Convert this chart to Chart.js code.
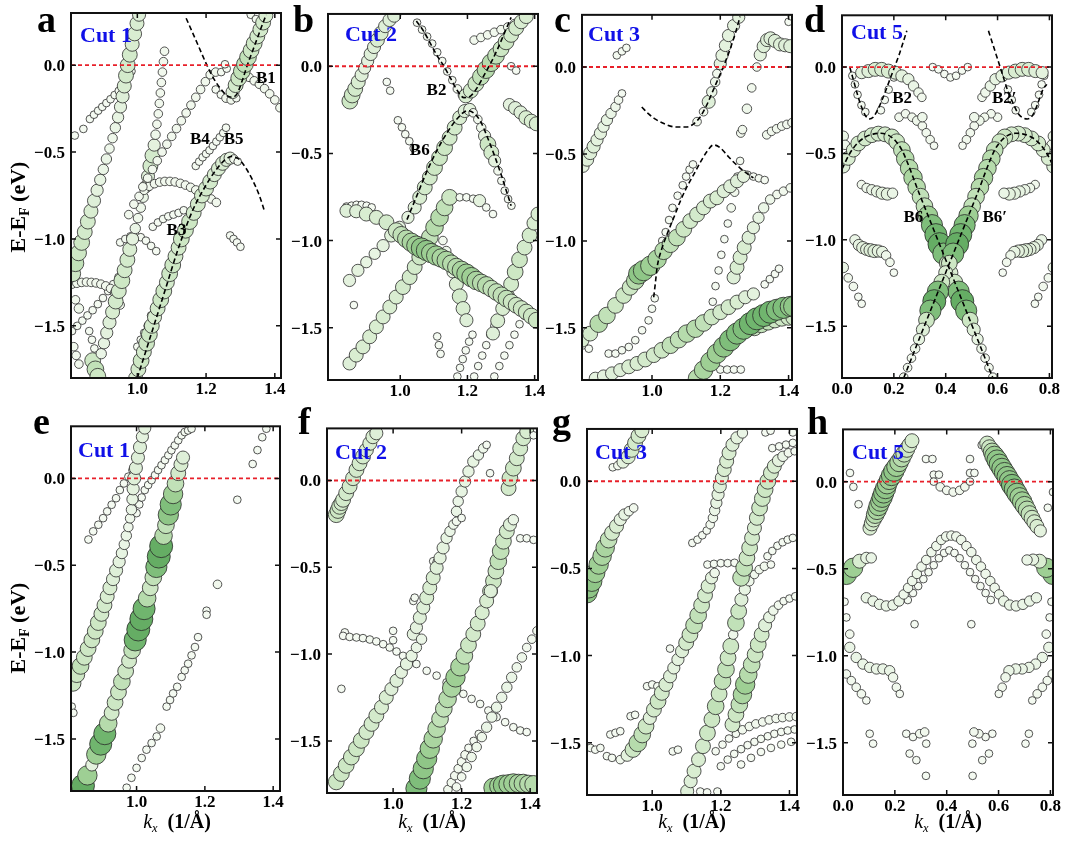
<!DOCTYPE html>
<html><head><meta charset="utf-8">
<script src="https://cdn.jsdelivr.net/npm/chart.js@4.4.0/dist/chart.umd.min.js"></script>
<style>
body{margin:0;background:#fff;width:1065px;height:845px;position:relative;overflow:hidden;font-family:"Liberation Serif","Times New Roman",serif;}
canvas{position:absolute;}
.pl{position:absolute;font-weight:bold;font-size:38px;line-height:38px;color:#000;}
.cut{position:absolute;font-weight:bold;font-size:22px;line-height:22px;color:#1010e8;white-space:nowrap;}
.yt{position:absolute;font-weight:bold;font-size:22px;line-height:22px;white-space:nowrap;transform:translate(-50%,-50%) rotate(-90deg);}
.xt{position:absolute;font-weight:bold;font-size:20px;line-height:20px;white-space:nowrap;transform:translateX(-50%);}
sub{font-size:0.62em;line-height:0;vertical-align:-0.3em;}
</style></head><body>
<script>
// ---------- tick labels & ranges ----------
const TICK_E = [0.0, -0.5, -1.0, -1.5];
const TICK_K1 = [1.0, 1.2, 1.4];
const TICK_K5 = [0.0, 0.2, 0.4, 0.6, 0.8];
const E_RANGE = [-1.8, 0.3];
const K_A = [0.807, 1.418], K_B = [0.785, 1.41], K_C = [0.795, 1.41], K_D = [0, 0.81];
const K_E = [0.808, 1.42], K_F = [0.807, 1.42], K_G = [0.81, 1.422], K_H = [0, 0.81];

// ---------- panel a : [k, E, weight] ----------
const a_L1 = [[0.812,-1.20,0.5],[0.820,-1.14,0.55],[0.829,-1.08,0.5],[0.838,-1.02,0.5],[0.847,-0.96,0.45],[0.856,-0.90,0.45],[0.865,-0.84,0.4],[0.874,-0.78,0.35],[0.883,-0.72,0.3],[0.892,-0.66,0.25],[0.901,-0.60,0.2],[0.910,-0.54,0.2],[0.919,-0.48,0.15],[0.928,-0.42,0.15],[0.936,-0.36,0.2],[0.944,-0.30,0.25],[0.951,-0.24,0.3],[0.957,-0.18,0.35],[0.962,-0.12,0.4],[0.967,-0.06,0.45],[0.972,0.0,0.45],[0.978,0.06,0.45],[0.985,0.12,0.4],[0.992,0.18,0.4],[0.999,0.24,0.4],[1.005,0.29,0.35]];
const a_S = [[0.818,-0.405,0.05],[0.843,-0.367,0.05],[0.862,-0.31,0.05],[0.874,-0.285,0.05],[0.886,-0.262,0.05],[0.898,-0.24,0.05],[0.91,-0.218,0.05],[0.922,-0.196,0.05],[0.934,-0.172,0.05],[0.946,-0.148,0.05],[0.956,-0.122,0.05],[0.966,-0.095,0.05],[0.975,-0.066,0.05],[0.983,-0.035,0.05]];
const a_L2 = [[0.895,-1.66,0.2],[0.903,-1.60,0.25],[0.911,-1.54,0.3],[0.919,-1.48,0.35],[0.928,-1.42,0.4],[0.937,-1.36,0.45],[0.946,-1.30,0.45],[0.955,-1.24,0.5],[0.963,-1.18,0.45],[0.971,-1.12,0.45],[0.978,-1.06,0.4],[0.986,-1.00,0.3],[0.994,-0.94,0.2],[1.002,-0.88,0.15],[1.010,-0.82,0.15],[1.017,-0.76,0.2],[1.024,-0.70,0.3],[1.031,-0.64,0.35],[1.038,-0.58,0.45],[1.044,-0.52,0.45],[1.049,-0.46,0.3],[1.053,-0.40,0.15],[1.057,-0.34,0.1],[1.061,-0.28,0.1],[1.064,-0.22,0.1],[1.067,-0.16,0.1],[1.070,-0.10,0.1],[1.073,-0.04,0.1],[1.076,0.02,0.1],[1.079,0.08,0.1]];
const a_L4 = [[1.016,-0.70,0.1],[1.03,-0.65,0.1],[1.044,-0.60,0.1],[1.058,-0.55,0.1],[1.072,-0.50,0.1],[1.086,-0.455,0.1],[1.10,-0.41,0.1],[1.114,-0.365,0.1],[1.128,-0.32,0.1],[1.142,-0.275,0.1],[1.156,-0.23,0.1],[1.17,-0.185,0.1],[1.184,-0.14,0.1],[1.198,-0.095,0.1],[1.212,-0.055,0.1],[1.228,-0.04,0.1],[1.244,-0.04,0.05]];
const a_arc = [[0.975,-0.86,0.1],[0.99,-0.80,0.1],[1.005,-0.755,0.1],[1.02,-0.72,0.1],[1.035,-0.697,0.1],[1.05,-0.682,0.1],[1.065,-0.673,0.1],[1.08,-0.669,0.1],[1.095,-0.669,0.1],[1.11,-0.672,0.1],[1.125,-0.68,0.1],[1.14,-0.69,0.1],[1.155,-0.703,0.1],[1.17,-0.718,0.1],[1.185,-0.735,0.1],[1.20,-0.752,0.1],[1.215,-0.77,0.1],[1.23,-0.79,0.1]];
const a_low1 = [[1.045,-0.93,0.05],[1.06,-0.905,0.05],[1.075,-0.885,0.05],[1.09,-0.87,0.05],[1.105,-0.86,0.05],[1.12,-0.85,0.05],[1.135,-0.835,0.05]];
const a_low2 = [[0.95,-1.02,0.05],[0.965,-1.0,0.05],[0.98,-0.985,0.05],[0.995,-0.98,0.05],[1.01,-0.99,0.05],[1.025,-1.01,0.05],[1.04,-1.04,0.05],[1.055,-1.07,0.05]];
const a_B4 = [[1.17,-0.58,0.05],[1.18,-0.555,0.05],[1.19,-0.53,0.05],[1.20,-0.51,0.05],[1.21,-0.49,0.05],[1.22,-0.465,0.05],[1.23,-0.44,0.05],[1.24,-0.415,0.05],[1.25,-0.39,0.05],[1.258,-0.36,0.05]];
const a_flat = [[0.81,-1.26,0.1],[0.824,-1.255,0.1],[0.838,-1.25,0.1],[0.852,-1.248,0.1],[0.866,-1.25,0.1],[0.88,-1.253,0.1],[0.894,-1.26,0.1],[0.908,-1.27,0.1],[0.922,-1.285,0.1],[0.934,-1.31,0.1],[0.943,-1.34,0.1],[0.95,-1.38,0.1]];
const a_rise = [[0.81,-1.53,0.05],[0.825,-1.50,0.05],[0.84,-1.47,0.05],[0.855,-1.44,0.05],[0.87,-1.41,0.05],[0.885,-1.375,0.05],[0.90,-1.34,0.05],[0.915,-1.30,0.05],[0.93,-1.26,0.05],[0.945,-1.22,0.05],[0.96,-1.18,0.05]];
const a_bl = [[0.815,-1.62,0.1],[0.822,-1.67,0.1],[0.83,-1.72,0.1],[0.86,-1.53,0.05],[0.868,-1.58,0.05],[0.875,-1.63,0.05],[0.87,-1.70,0.5],[0.878,-1.75,0.55],[0.885,-1.79,0.5],[0.82,-1.35,0.1],[0.83,-1.40,0.15]];
const a_B3 = [[0.995,-1.80,0.4],[1.003,-1.75,0.45],[1.011,-1.70,0.5],[1.019,-1.65,0.45],[1.027,-1.60,0.5],[1.035,-1.55,0.5],[1.042,-1.50,0.45],[1.050,-1.45,0.4],[1.059,-1.40,0.45],[1.068,-1.35,0.5],[1.077,-1.30,0.5],[1.086,-1.25,0.45],[1.094,-1.20,0.5],[1.103,-1.15,0.5],[1.111,-1.10,0.45],[1.120,-1.05,0.45],[1.128,-1.00,0.5],[1.140,-0.95,0.5],[1.152,-0.90,0.5],[1.164,-0.85,0.45],[1.176,-0.80,0.45],[1.188,-0.75,0.45],[1.200,-0.71,0.45],[1.212,-0.67,0.45],[1.224,-0.63,0.4],[1.236,-0.595,0.4],[1.248,-0.565,0.4],[1.259,-0.545,0.35],[1.270,-0.535,0.3],[1.281,-0.54,0.1],[1.292,-0.555,0.05]];
const a_B3w = [[1.0,-1.62,0.05],[1.01,-1.58,0.05],[1.02,-1.54,0.05],[1.03,-1.50,0.05],[1.04,-1.44,0.05]];
const a_B1g = [[1.277,-0.155,0.35],[1.286,-0.115,0.45],[1.295,-0.075,0.5],[1.304,-0.035,0.55],[1.313,0.005,0.55],[1.322,0.045,0.55],[1.331,0.085,0.5],[1.34,0.125,0.5],[1.349,0.165,0.45],[1.358,0.205,0.45],[1.366,0.245,0.45],[1.374,0.285,0.4]];
const a_B1w = [[1.228,-0.14,0.05],[1.243,-0.17,0.05],[1.258,-0.19,0.1],[1.273,-0.2,0.1],[1.288,-0.19,0.05]];
const a_R = [[1.31,-0.05,0.05],[1.325,-0.07,0.1],[1.34,-0.09,0.1],[1.355,-0.11,0.1],[1.37,-0.135,0.1],[1.385,-0.165,0.1],[1.40,-0.20,0.1],[1.415,-0.245,0.1]];
const a_TR = [[1.33,0.29,0.05],[1.345,0.265,0.05],[1.36,0.23,0.05],[1.26,-0.02,0.05],[1.255,0.005,0.05]];
const a_R2 = [[1.27,-0.98,0.05],[1.28,-1.0,0.05],[1.29,-1.02,0.05],[1.30,-1.045,0.05]];
const a_fitB1 = [[1.142,0.27],[1.16,0.19],[1.18,0.10],[1.20,0.01],[1.22,-0.07],[1.24,-0.13],[1.26,-0.175],[1.275,-0.185],[1.29,-0.165],[1.305,-0.09],[1.32,0.0],[1.335,0.08],[1.35,0.16],[1.365,0.24],[1.375,0.29]];
const a_fitB3 = [[1.0,-1.80],[1.04,-1.55],[1.08,-1.30],[1.12,-1.05],[1.16,-0.84],[1.20,-0.69],[1.23,-0.60],[1.255,-0.545],[1.275,-0.525],[1.295,-0.54],[1.315,-0.59],[1.335,-0.66],[1.355,-0.75],[1.37,-0.84]];

// ---------- panel b ----------
const b_TL = [[0.85,-0.20,0.5],[0.857,-0.165,0.5],[0.866,-0.13,0.45],[0.875,-0.09,0.4],[0.885,-0.05,0.35],[0.894,-0.01,0.3],[0.903,0.03,0.3],[0.912,0.07,0.35],[0.922,0.11,0.35],[0.932,0.15,0.4],[0.943,0.19,0.4],[0.955,0.23,0.35],[0.968,0.265,0.35],[0.982,0.29,0.35]];
const b_w0 = [[0.96,-0.09,0.05],[0.97,-0.14,0.05]];
const b_B2w = [[1.05,0.25,0.05],[1.065,0.21,0.05],[1.08,0.17,0.05],[1.095,0.13,0.05],[1.11,0.08,0.05],[1.125,0.03,0.05],[1.14,-0.03,0.05],[1.155,-0.08,0.05],[1.17,-0.13,0.1],[1.185,-0.165,0.1],[1.20,-0.18,0.1]];
const b_B2g = [[1.195,-0.17,0.4],[1.21,-0.14,0.45],[1.225,-0.10,0.5],[1.24,-0.06,0.55],[1.255,-0.02,0.6],[1.27,0.02,0.6],[1.285,0.06,0.55],[1.30,0.10,0.5],[1.315,0.14,0.5],[1.33,0.18,0.45],[1.345,0.22,0.45],[1.36,0.255,0.4],[1.375,0.285,0.4]];
const b_top = [[1.22,0.15,0.1],[1.24,0.165,0.1],[1.26,0.18,0.1],[1.28,0.195,0.1],[1.30,0.21,0.1],[1.32,0.225,0.1],[1.34,0.245,0.1],[1.36,0.265,0.1],[1.38,0.28,0.1],[1.33,0.0,0.05],[1.345,-0.025,0.05]];
const b_R = [[1.325,-0.22,0.3],[1.342,-0.24,0.35],[1.358,-0.265,0.35],[1.374,-0.295,0.4],[1.39,-0.315,0.4],[1.405,-0.33,0.4]];
const b_B6L = [[0.849,-1.229,0.3],[0.874,-1.171,0.3],[0.899,-1.124,0.25],[0.924,-1.076,0.25],[0.949,-1.029,0.3],[0.973,-0.971,0.35],[0.998,-0.924,0.3],[1.023,-0.867,0.3],[1.043,-0.81,0.35],[1.058,-0.752,0.4],[1.073,-0.695,0.45],[1.088,-0.638,0.45],[1.102,-0.581,0.5],[1.117,-0.524,0.5],[1.132,-0.467,0.5],[1.147,-0.41,0.45],[1.162,-0.352,0.45],[1.177,-0.295,0.4],[1.192,-0.257,0.35],[1.207,-0.248,0.3]];
const b_diag2 = [[0.849,-1.705,0.35],[0.869,-1.657,0.4],[0.889,-1.61,0.4],[0.909,-1.552,0.4],[0.929,-1.495,0.4],[0.949,-1.438,0.4],[0.969,-1.381,0.4],[0.988,-1.324,0.4],[1.008,-1.267,0.45],[1.028,-1.21,0.45],[1.043,-1.152,0.45],[1.058,-1.095,0.5],[1.073,-1.038,0.5],[1.088,-0.981,0.55],[1.102,-0.924,0.6],[1.117,-0.867,0.6],[1.132,-0.81,0.55],[1.147,-0.752,0.5]];
const b_horiz = [[0.84,-0.829,0.35],[0.869,-0.832,0.35],[0.899,-0.848,0.4],[0.929,-0.867,0.4],[0.959,-0.895,0.45],[0.988,-0.943,0.5],[1.003,-0.967,0.55],[1.018,-0.99,0.6],[1.033,-1.01,0.65],[1.048,-1.029,0.7],[1.063,-1.043,0.75],[1.078,-1.057,0.75],[1.092,-1.072,0.7],[1.107,-1.086,0.7],[1.122,-1.1,0.65],[1.137,-1.114,0.65],[1.152,-1.133,0.6],[1.167,-1.152,0.6],[1.182,-1.171,0.65],[1.197,-1.19,0.7],[1.212,-1.21,0.7],[1.226,-1.229,0.65],[1.241,-1.243,0.6],[1.256,-1.257,0.6],[1.271,-1.276,0.55],[1.286,-1.295,0.55],[1.301,-1.314,0.55],[1.316,-1.333,0.55],[1.33,-1.352,0.5],[1.345,-1.371,0.5],[1.36,-1.39,0.5],[1.375,-1.41,0.5],[1.39,-1.433,0.5],[1.405,-1.457,0.5]];
const b_wrow = [[0.84,-0.805,0.05],[0.855,-0.80,0.05],[0.87,-0.795,0.05],[0.885,-0.795,0.05],[0.90,-0.80,0.05],[0.915,-0.81,0.05]];
const b_w1 = [[0.993,-0.31,0.05],[1.005,-0.35,0.05],[1.015,-0.39,0.05],[1.027,-0.43,0.05],[1.04,-0.47,0.05]];
const b_B6R = [[1.217,-0.267,0.1],[1.231,-0.305,0.1],[1.241,-0.352,0.15],[1.251,-0.40,0.3],[1.261,-0.448,0.5],[1.271,-0.495,0.45],[1.281,-0.543,0.3],[1.291,-0.60,0.1],[1.301,-0.657,0.05],[1.311,-0.714,0.05],[1.321,-0.762,0.05],[1.331,-0.80,0.05]];
const b_w2 = [[1.177,-0.752,0.05],[1.197,-0.752,0.05],[1.217,-0.76,0.05],[1.236,-0.771,0.3],[1.256,-0.81,0.05],[1.276,-0.848,0.05]];
const b_mid = [[1.127,-1.0,0.1],[1.137,-1.06,0.15],[1.147,-1.12,0.2],[1.157,-1.18,0.3],[1.167,-1.25,0.4],[1.177,-1.32,0.45],[1.187,-1.39,0.4],[1.197,-1.457,0.35]];
const b_RR = [[1.276,-1.533,0.35],[1.29,-1.46,0.4],[1.305,-1.39,0.4],[1.318,-1.32,0.45],[1.33,-1.25,0.45],[1.342,-1.18,0.5],[1.355,-1.11,0.5],[1.37,-1.04,0.45],[1.385,-0.97,0.45],[1.398,-0.90,0.4],[1.41,-0.848,0.4]];
const b_lw1 = [[1.17,-1.78,0.05],[1.178,-1.73,0.05],[1.186,-1.68,0.05],[1.195,-1.63,0.05],[1.205,-1.58,0.05],[1.215,-1.54,0.05]];
const b_lw2 = [[1.22,-1.78,0.05],[1.232,-1.72,0.05],[1.244,-1.66,0.05],[1.256,-1.60,0.05],[1.268,-1.54,0.05],[1.28,-1.49,0.05],[1.292,-1.45,0.05]];
const b_lw3 = [[1.28,-1.78,0.05],[1.295,-1.72,0.05],[1.31,-1.66,0.05],[1.325,-1.60,0.05],[1.34,-1.54,0.05],[1.355,-1.48,0.05],[1.37,-1.43,0.05]];
const b_iso = [[0.862,-1.37,0.05],[1.11,-1.55,0.05],[1.115,-1.6,0.05],[1.12,-1.65,0.05]];
const b_fitB2 = [[1.048,0.26],[1.07,0.2],[1.09,0.13],[1.11,0.06],[1.13,0.0],[1.15,-0.07],[1.17,-0.14],[1.19,-0.18],[1.21,-0.17],[1.23,-0.12],[1.25,-0.05],[1.27,0.02],[1.29,0.10],[1.31,0.19],[1.33,0.28]];
const b_fitB6 = [[1.02,-0.88],[1.05,-0.74],[1.08,-0.60],[1.11,-0.48],[1.14,-0.38],[1.17,-0.30],[1.20,-0.255],[1.22,-0.27],[1.24,-0.32],[1.26,-0.41],[1.28,-0.51],[1.30,-0.62],[1.32,-0.74],[1.33,-0.80]];

// ---------- panel c ----------
const c_TL = [[0.897,0.067,0.05],[0.912,0.09,0.05],[0.925,0.11,0.05]];
const c_L = [[0.798,-0.571,0.3],[0.81,-0.533,0.35],[0.819,-0.495,0.35],[0.829,-0.457,0.35],[0.839,-0.419,0.3],[0.849,-0.381,0.3],[0.858,-0.343,0.25],[0.868,-0.305,0.25],[0.88,-0.267,0.2],[0.893,-0.229,0.15],[0.902,-0.19,0.1],[0.912,-0.152,0.05]];
const c_U = [[1.132,-0.314,0.1],[1.151,-0.257,0.1],[1.166,-0.20,0.35],[1.175,-0.143,0.2],[1.185,-0.086,0.15],[1.19,-0.038,0.1],[1.20,0.019,0.3],[1.205,0.067,0.3],[1.215,0.124,0.3],[1.224,0.181,0.3],[1.239,0.238,0.3],[1.254,0.286,0.3]];
const c_steep = [[1.17,-1.44,0.05],[1.178,-1.35,0.05],[1.186,-1.26,0.05],[1.195,-1.17,0.05],[1.203,-1.08,0.05],[1.212,-0.99,0.05],[1.222,-0.90,0.05],[1.232,-0.81,0.1],[1.242,-0.72,0.1],[1.25,-0.63,0.05],[1.258,-0.54,0.05],[1.26,-0.38,0.1],[1.265,-0.36,0.1],[1.278,-0.24,0.15],[1.292,-0.12,0.1],[1.307,0.0,0.1]];
const c_TR = [[1.317,0.07,0.3],[1.327,0.12,0.35],[1.337,0.155,0.35],[1.347,0.165,0.35],[1.36,0.15,0.35],[1.375,0.13,0.35],[1.39,0.125,0.35],[1.405,0.12,0.35],[1.40,0.26,0.05],[1.41,0.29,0.05]];
const c_R = [[1.336,-0.39,0.1],[1.35,-0.37,0.1],[1.365,-0.355,0.1],[1.38,-0.34,0.1],[1.395,-0.33,0.1],[1.41,-0.32,0.1]];
const c_Lw = [[1.03,-1.0,0.05],[1.04,-0.95,0.05],[1.05,-0.88,0.05],[1.06,-0.81,0.05],[1.075,-0.74,0.05],[1.09,-0.68,0.05],[1.10,-0.63,0.05],[1.11,-0.59,0.05],[1.12,-0.56,0.05]];
const c_G = [[0.795,-1.571,0.4],[0.819,-1.533,0.45],[0.844,-1.476,0.6],[0.868,-1.429,0.55],[0.893,-1.371,0.5],[0.917,-1.314,0.5],[0.936,-1.267,0.5],[0.951,-1.229,0.6],[0.961,-1.19,0.75],[0.975,-1.171,0.75],[0.995,-1.143,0.7],[1.015,-1.105,0.65],[1.034,-1.057,0.6],[1.054,-1.019,0.55],[1.073,-0.981,0.55],[1.093,-0.933,0.5],[1.112,-0.886,0.45],[1.132,-0.848,0.45],[1.151,-0.81,0.4],[1.171,-0.771,0.4],[1.19,-0.752,0.4],[1.21,-0.714,0.35],[1.229,-0.686,0.35],[1.249,-0.657,0.35],[1.268,-0.629,0.3]];
const c_Gw = [[1.28,-0.62,0.05],[1.297,-0.63,0.05],[1.313,-0.64,0.05],[1.33,-0.65,0.05]];
const c_bw = [[0.80,-1.60,0.05],[0.815,-1.62,0.05],[0.873,-1.648,0.05],[0.893,-1.648,0.05],[0.912,-1.629,0.05],[0.932,-1.61,0.05],[0.951,-1.571,0.05],[0.971,-1.514,0.05],[0.99,-1.457,0.05],[1.0,-1.39,0.05],[1.008,-1.33,0.05]];
const c_b1 = [[0.834,-1.79,0.3],[0.858,-1.777,0.3],[0.883,-1.762,0.35],[0.907,-1.743,0.35],[0.932,-1.724,0.4],[0.956,-1.705,0.4],[0.98,-1.682,0.45],[1.005,-1.657,0.45],[1.029,-1.629,0.5],[1.054,-1.60,0.55],[1.078,-1.568,0.55],[1.102,-1.533,0.6],[1.127,-1.505,0.6],[1.151,-1.472,0.55],[1.175,-1.438,0.5],[1.20,-1.41,0.45],[1.224,-1.381,0.45],[1.249,-1.352,0.4],[1.273,-1.324,0.35],[1.297,-1.305,0.3]];
const c_b2 = [[1.132,-1.79,0.6],[1.151,-1.743,0.65],[1.171,-1.695,0.7],[1.19,-1.648,0.7],[1.21,-1.61,0.75],[1.229,-1.571,0.8],[1.249,-1.533,0.8],[1.268,-1.505,0.8],[1.288,-1.476,0.85],[1.307,-1.448,0.85],[1.327,-1.429,0.85],[1.346,-1.41,0.85],[1.366,-1.396,0.8],[1.385,-1.385,0.8],[1.405,-1.377,0.75],[1.415,-1.377,0.75]];
const c_b3 = [[1.30,-1.50,0.5],[1.32,-1.48,0.55],[1.34,-1.465,0.55],[1.36,-1.455,0.5],[1.38,-1.445,0.5],[1.40,-1.44,0.5],[1.415,-1.44,0.5]];
const c_bw2 = [[1.20,-1.74,0.05],[1.22,-1.74,0.05],[1.24,-1.74,0.05],[1.26,-1.74,0.05]];
const c_Rw = [[1.33,-1.25,0.05],[1.345,-1.22,0.05],[1.36,-1.19,0.05],[1.372,-1.16,0.05]];
const c_RM = [[1.239,-1.21,0.35],[1.249,-1.152,0.4],[1.258,-1.095,0.4],[1.27,-1.038,0.4],[1.283,-0.981,0.35],[1.297,-0.924,0.3],[1.312,-0.867,0.25],[1.327,-0.81,0.2],[1.346,-0.762,0.15],[1.366,-0.733,0.1],[1.385,-0.714,0.1],[1.405,-0.695,0.1]];
const c_fitU = [[0.97,-0.23],[0.99,-0.27],[1.01,-0.30],[1.04,-0.33],[1.07,-0.345],[1.10,-0.345],[1.12,-0.33],[1.14,-0.29],[1.16,-0.22],[1.18,-0.13],[1.20,-0.04],[1.215,0.03],[1.23,0.11],[1.245,0.2],[1.258,0.29]];
const c_fitL = [[1.005,-1.324],[1.01,-1.24],[1.015,-1.152],[1.028,-1.05],[1.044,-0.962],[1.063,-0.87],[1.083,-0.771],[1.102,-0.69],[1.122,-0.619],[1.141,-0.55],[1.161,-0.486],[1.18,-0.448],[1.20,-0.465],[1.219,-0.505],[1.238,-0.545],[1.258,-0.581],[1.278,-0.612],[1.297,-0.638]];

// ---------- panel d ----------
const d_B2La = [[0.076,-0.032,0.3],[0.102,-0.023,0.35],[0.128,-0.013,0.4],[0.153,-0.013,0.4],[0.179,-0.023,0.4],[0.205,-0.032,0.35],[0.231,-0.051,0.3],[0.256,-0.07,0.25],[0.276,-0.109,0.2],[0.295,-0.147,0.15],[0.308,-0.175,0.1]];
const d_B2Ra = [[0.54,-0.175,0.1],[0.553,-0.147,0.15],[0.572,-0.109,0.2],[0.592,-0.07,0.25],[0.617,-0.051,0.3],[0.643,-0.032,0.35],[0.669,-0.023,0.4],[0.695,-0.013,0.4],[0.72,-0.013,0.4],[0.746,-0.023,0.35],[0.772,-0.032,0.3]];
const d_B2Lw = [[0.04,-0.05,0.05],[0.05,-0.1,0.05],[0.06,-0.16,0.05],[0.075,-0.22,0.05],[0.09,-0.26,0.05],[0.15,-0.25,0.05],[0.165,-0.19,0.05],[0.18,-0.13,0.05],[0.20,-0.06,0.05]];
const d_B2Rw = [[0.78,-0.05,0.05],[0.77,-0.1,0.05],[0.76,-0.16,0.05],[0.745,-0.22,0.05],[0.73,-0.26,0.05],[0.67,-0.25,0.05],[0.655,-0.19,0.05],[0.64,-0.13,0.05],[0.62,-0.06,0.05]];
const d_top = [[0.35,0.0,0.05],[0.372,-0.013,0.05],[0.395,-0.04,0.05],[0.418,-0.06,0.05],[0.44,-0.05,0.05],[0.463,-0.02,0.05],[0.485,0.0,0.05]];
const d_wL = [[0.22,-0.29,0.1],[0.245,-0.27,0.1],[0.27,-0.29,0.1],[0.29,-0.31,0.15],[0.31,-0.34,0.1],[0.325,-0.38,0.1],[0.34,-0.42,0.1],[0.355,-0.455,0.05],[0.31,-0.29,0.15]];
const d_wR = [[0.60,-0.29,0.1],[0.575,-0.27,0.1],[0.55,-0.29,0.1],[0.53,-0.31,0.15],[0.51,-0.34,0.1],[0.495,-0.38,0.1],[0.48,-0.42,0.1],[0.465,-0.455,0.05],[0.51,-0.29,0.15]];
const d_B6 = [[0.005,-0.575,0.35],[0.024,-0.528,0.4],[0.044,-0.48,0.4],[0.063,-0.442,0.45],[0.089,-0.413,0.45],[0.115,-0.394,0.45],[0.14,-0.385,0.45],[0.166,-0.389,0.45],[0.192,-0.404,0.5],[0.211,-0.432,0.5],[0.231,-0.48,0.55],[0.244,-0.53,0.6],[0.259,-0.585,0.6],[0.274,-0.64,0.65],[0.288,-0.695,0.6],[0.303,-0.75,0.55],[0.318,-0.805,0.55],[0.332,-0.86,0.7],[0.347,-0.915,0.8],[0.362,-0.97,0.85],[0.376,-1.025,0.9],[0.391,-1.08,0.8],[0.406,-1.135,0.5],[0.42,-1.19,0.4],[0.435,-1.245,0.5],[0.45,-1.30,0.8],[0.464,-1.355,0.9],[0.479,-1.41,0.8],[0.494,-1.465,0.5],[0.508,-1.52,0.35],[0.523,-1.575,0.25],[0.538,-1.63,0.15],[0.552,-1.685,0.1],[0.567,-1.74,0.1],[0.582,-1.795,0.1]];
const d_B6p = [[0.815,-0.575,0.35],[0.796,-0.528,0.4],[0.776,-0.48,0.4],[0.757,-0.442,0.45],[0.731,-0.413,0.45],[0.705,-0.394,0.45],[0.68,-0.385,0.45],[0.654,-0.389,0.45],[0.628,-0.404,0.5],[0.609,-0.432,0.5],[0.589,-0.48,0.55],[0.576,-0.53,0.6],[0.561,-0.585,0.6],[0.546,-0.64,0.65],[0.532,-0.695,0.6],[0.517,-0.75,0.55],[0.502,-0.805,0.55],[0.488,-0.86,0.7],[0.473,-0.915,0.8],[0.458,-0.97,0.85],[0.444,-1.025,0.9],[0.429,-1.08,0.8],[0.414,-1.135,0.5],[0.40,-1.19,0.4],[0.385,-1.245,0.5],[0.37,-1.30,0.8],[0.356,-1.355,0.9],[0.341,-1.41,0.8],[0.326,-1.465,0.5],[0.312,-1.52,0.35],[0.297,-1.575,0.25],[0.282,-1.63,0.15],[0.268,-1.685,0.1],[0.253,-1.74,0.1],[0.238,-1.795,0.1]];
const d_rowL = [[0.05,-1.0,0.2],[0.065,-1.03,0.25],[0.08,-1.045,0.3],[0.095,-1.055,0.3],[0.11,-1.06,0.35],[0.125,-1.065,0.35],[0.14,-1.065,0.3],[0.155,-1.07,0.25],[0.17,-1.09,0.15],[0.185,-1.13,0.1],[0.20,-1.19,0.05]];
const d_rowR = [[0.77,-1.0,0.2],[0.755,-1.03,0.25],[0.74,-1.045,0.3],[0.725,-1.055,0.3],[0.71,-1.06,0.35],[0.695,-1.065,0.35],[0.68,-1.065,0.3],[0.665,-1.07,0.25],[0.65,-1.09,0.15],[0.635,-1.13,0.1],[0.62,-1.19,0.05]];
const d_edgeL = [[0.005,-1.16,0.2],[0.024,-1.22,0.1],[0.044,-1.27,0.1],[0.063,-1.33,0.05],[0.076,-1.37,0.05]];
const d_edgeR = [[0.815,-1.16,0.2],[0.796,-1.22,0.1],[0.776,-1.27,0.1],[0.757,-1.33,0.05],[0.744,-1.37,0.05]];
const d_midL = [[0.075,-0.68,0.1],[0.095,-0.70,0.15],[0.115,-0.71,0.2],[0.135,-0.72,0.25],[0.155,-0.73,0.3],[0.175,-0.735,0.3],[0.195,-0.73,0.2]];
const d_midR = [[0.745,-0.68,0.1],[0.725,-0.70,0.15],[0.705,-0.71,0.2],[0.685,-0.72,0.25],[0.665,-0.73,0.3],[0.645,-0.735,0.3],[0.625,-0.73,0.2]];
const d_wEdge = [[0.005,-0.40,0.2],[0.012,-0.45,0.15],[0.815,-0.40,0.2],[0.808,-0.45,0.15]];
const d_fitB2L = [[0.03,0.0],[0.045,-0.08],[0.06,-0.16],[0.075,-0.23],[0.09,-0.28],[0.105,-0.30],[0.12,-0.29],[0.14,-0.24],[0.16,-0.17],[0.18,-0.09],[0.20,-0.01],[0.22,0.07],[0.235,0.14],[0.25,0.21]];
const d_fitB2R = [[0.565,0.21],[0.58,0.14],[0.595,0.07],[0.61,0.0],[0.625,-0.07],[0.64,-0.14],[0.66,-0.21],[0.68,-0.27],[0.70,-0.295],[0.715,-0.30],[0.73,-0.29],[0.745,-0.25],[0.76,-0.19],[0.775,-0.13],[0.79,-0.10]];
const d_fitB6 = [[0.0,-0.59],[0.03,-0.5],[0.06,-0.44],[0.09,-0.405],[0.12,-0.388],[0.15,-0.383],[0.18,-0.395],[0.205,-0.425],[0.231,-0.48],[0.30,-0.74],[0.40,-1.115],[0.50,-1.49],[0.582,-1.80]];
const d_fitB6p = [[0.238,-1.80],[0.32,-1.49],[0.42,-1.115],[0.52,-0.74],[0.589,-0.48],[0.615,-0.425],[0.64,-0.395],[0.67,-0.383],[0.70,-0.388],[0.73,-0.405],[0.76,-0.44],[0.79,-0.5],[0.82,-0.59]];

// ---------- panel e ----------
const e_L1 = [[0.814,-1.18,0.5],[0.825,-1.13,0.5],[0.836,-1.08,0.55],[0.847,-1.03,0.5],[0.858,-0.98,0.5],[0.869,-0.93,0.5],[0.879,-0.88,0.5],[0.888,-0.83,0.5],[0.897,-0.78,0.45],[0.906,-0.73,0.45],[0.914,-0.68,0.4],[0.922,-0.63,0.4],[0.931,-0.58,0.35],[0.94,-0.53,0.35],[0.949,-0.48,0.3],[0.957,-0.43,0.25],[0.964,-0.38,0.2],[0.97,-0.33,0.2],[0.976,-0.28,0.15],[0.981,-0.23,0.15],[0.985,-0.18,0.2],[0.988,-0.12,0.25],[0.99,-0.06,0.3],[0.993,0.0,0.35],[0.998,0.06,0.35],[1.004,0.12,0.35],[1.01,0.18,0.35],[1.017,0.24,0.3],[1.024,0.29,0.3]];
const e_S = [[0.859,-0.352,0.05],[0.873,-0.305,0.05],[0.888,-0.267,0.05],[0.902,-0.229,0.05],[0.914,-0.19,0.05],[0.927,-0.152,0.05],[0.94,-0.114,0.05],[0.951,-0.067,0.05],[0.963,-0.029,0.05],[0.976,0.01,0.05],[0.988,0.048,0.05]];
const e_S2 = [[1.0,-0.2,0.05],[1.008,-0.15,0.05],[1.015,-0.11,0.05],[1.024,-0.067,0.05],[1.034,-0.038,0.05],[1.044,-0.01,0.05],[1.054,0.019,0.05],[1.063,0.048,0.05],[1.073,0.076,0.05],[1.083,0.105,0.05],[1.093,0.133,0.05],[1.102,0.162,0.05],[1.112,0.19,0.05],[1.122,0.219,0.05],[1.132,0.248,0.05],[1.141,0.267,0.05],[1.151,0.276,0.05],[1.161,0.286,0.05]];
const e_B = [[0.843,-1.77,0.9],[0.856,-1.71,0.7],[0.869,-1.65,0.3],[0.882,-1.59,0.7],[0.895,-1.53,0.85],[0.907,-1.47,0.85],[0.917,-1.41,0.6],[0.927,-1.35,0.45],[0.937,-1.29,0.5],[0.947,-1.23,0.5],[0.957,-1.17,0.55],[0.968,-1.11,0.5],[0.978,-1.05,0.45],[0.987,-0.99,0.55],[0.996,-0.93,0.85],[1.005,-0.87,0.9],[1.014,-0.81,0.9],[1.022,-0.75,0.85],[1.031,-0.69,0.6],[1.04,-0.63,0.5],[1.049,-0.57,0.55],[1.058,-0.51,0.8],[1.065,-0.45,0.9],[1.072,-0.39,0.9],[1.079,-0.33,0.6],[1.086,-0.27,0.55],[1.093,-0.21,0.75],[1.10,-0.15,0.8],[1.107,-0.09,0.7],[1.114,-0.03,0.55],[1.122,0.03,0.45],[1.13,0.08,0.4],[1.136,0.12,0.35]];
const e_r = [[0.971,-1.781,0.05],[0.985,-1.724,0.05],[1.0,-1.667,0.05],[1.015,-1.61,0.05],[1.029,-1.562,0.05],[1.044,-1.524,0.05],[1.059,-1.486,0.05],[1.07,-1.438,0.1],[1.088,-1.314,0.05],[1.098,-1.276,0.05],[1.107,-1.238,0.05],[1.119,-1.2,0.05],[1.132,-1.143,0.05],[1.141,-1.105,0.05],[1.151,-1.067,0.05],[1.161,-1.019,0.05],[1.171,-0.971,0.05],[1.18,-0.914,0.05]];
const e_iso = [[1.205,-0.762,0.05],[1.205,-0.785,0.05],[1.237,-0.61,0.1],[1.295,-0.123,0.05],[1.34,0.083,0.05],[1.354,0.163,0.05],[1.368,0.237,0.05],[1.38,0.286,0.05],[0.81,-1.314,0.05],[0.815,-1.35,0.05]];

// ---------- panel f ----------
const f_TL = [[0.834,-0.197,0.5],[0.839,-0.173,0.5],[0.844,-0.149,0.5],[0.849,-0.13,0.45],[0.854,-0.111,0.45],[0.863,-0.073,0.45],[0.873,-0.034,0.45],[0.883,0.013,0.45],[0.893,0.061,0.45],[0.902,0.099,0.45],[0.912,0.138,0.45],[0.922,0.176,0.4],[0.932,0.214,0.4],[0.941,0.252,0.4],[0.951,0.272,0.35]];
const f_M1 = [[1.185,-0.178,0.2],[1.19,-0.12,0.2],[1.20,-0.063,0.25],[1.21,-0.006,0.25],[1.22,0.052,0.25],[1.234,0.109,0.25],[1.249,0.147,0.2],[1.263,0.185,0.15],[1.273,0.205,0.05],[1.283,0.042,0.05]];
const f_M2 = [[1.337,-0.044,0.45],[1.341,0.013,0.5],[1.351,0.071,0.5],[1.361,0.128,0.45],[1.371,0.185,0.45],[1.38,0.243,0.45],[1.39,0.281,0.4],[1.41,0.26,0.05]];
const f_4 = [[1.059,-0.885,0.3],[1.068,-0.847,0.3],[1.078,-0.79,0.35],[1.088,-0.732,0.35],[1.098,-0.675,0.4],[1.107,-0.618,0.4],[1.117,-0.56,0.4],[1.127,-0.503,0.35],[1.137,-0.446,0.3],[1.146,-0.388,0.3],[1.156,-0.331,0.25],[1.166,-0.293,0.2],[1.176,-0.254,0.15],[1.185,-0.235,0.1],[1.20,-0.216,0.05]];
const f_5 = [[1.283,-0.637,0.45],[1.293,-0.579,0.5],[1.30,-0.522,0.5],[1.307,-0.465,0.55],[1.314,-0.407,0.55],[1.322,-0.35,0.5],[1.332,-0.293,0.45],[1.341,-0.254,0.35],[1.351,-0.226,0.2],[1.371,-0.333,0.05],[1.39,-0.333,0.05],[1.41,-0.342,0.05]];
const f_6 = [[1.068,-1.774,0.8],[1.078,-1.717,0.8],[1.088,-1.66,0.75],[1.098,-1.602,0.75],[1.107,-1.545,0.7],[1.117,-1.488,0.65],[1.127,-1.43,0.6],[1.137,-1.373,0.55],[1.148,-1.315,0.55],[1.159,-1.258,0.6],[1.171,-1.195,0.65],[1.182,-1.134,0.7],[1.195,-1.073,0.65],[1.208,-1.01,0.55],[1.22,-0.948,0.5],[1.234,-0.885,0.45],[1.247,-0.824,0.45],[1.26,-0.761,0.4],[1.273,-0.694,0.4],[1.285,-0.637,0.35]];
const f_7 = [[0.834,-1.736,0.5],[0.849,-1.688,0.5],[0.863,-1.641,0.5],[0.878,-1.593,0.5],[0.893,-1.545,0.5],[0.907,-1.497,0.5],[0.922,-1.449,0.45],[0.937,-1.402,0.45],[0.951,-1.354,0.45],[0.966,-1.306,0.4],[0.98,-1.249,0.4],[0.995,-1.201,0.35],[1.01,-1.153,0.35],[1.024,-1.105,0.3],[1.039,-1.057,0.3],[1.054,-1.01,0.25],[1.068,-0.962,0.2],[1.083,-0.914,0.2]];
const f_8 = [[0.854,-0.895,0.05],[0.873,-0.901,0.05],[0.893,-0.904,0.05],[0.912,-0.908,0.05],[0.932,-0.916,0.05],[0.951,-0.927,0.05],[0.971,-0.943,0.05],[0.99,-0.962,0.05],[1.01,-0.985,0.05],[1.029,-1.01,0.05],[1.049,-1.029,0.05],[1.068,-1.057,0.05],[1.098,-1.096,0.05],[1.127,-1.124,0.05],[1.156,-1.163,0.05],[1.18,-1.201,0.05],[1.205,-1.229,0.05],[1.229,-1.258,0.05],[1.254,-1.287,0.05],[1.278,-1.325,0.05],[1.302,-1.363,0.05],[1.327,-1.392,0.05],[1.351,-1.421,0.05],[1.371,-1.44,0.05],[1.39,-1.449,0.05]];
const f_iso = [[0.859,-0.875,0.05],[0.849,-1.20,0.05],[1.0,-0.866,0.05],[1.059,-0.694,0.05],[1.063,-0.675,0.05],[1.117,-0.465,0.05],[1.127,-0.47,0.05],[1.0,-0.92,0.05]];
const f_9 = [[1.185,-1.765,0.1],[1.20,-1.707,0.1],[1.215,-1.65,0.15],[1.229,-1.593,0.15],[1.244,-1.535,0.15],[1.259,-1.478,0.15],[1.273,-1.421,0.2],[1.288,-1.363,0.2],[1.302,-1.306,0.2],[1.317,-1.249,0.2],[1.332,-1.191,0.2],[1.346,-1.134,0.2],[1.361,-1.076,0.15],[1.376,-1.019,0.15],[1.39,-0.962,0.1],[1.405,-0.914,0.1],[1.42,-0.866,0.1]];
const f_9b = [[1.16,-1.78,0.1],[1.17,-1.74,0.1],[1.18,-1.70,0.1],[1.19,-1.66,0.1],[1.20,-1.62,0.1],[1.21,-1.58,0.1],[1.22,-1.54,0.05],[1.235,-1.50,0.05],[1.25,-1.46,0.05]];
const f_10 = [[1.293,-1.77,0.7],[1.31,-1.76,0.7],[1.322,-1.755,0.75],[1.337,-1.75,0.7],[1.351,-1.745,0.7],[1.366,-1.745,0.65],[1.38,-1.745,0.65],[1.395,-1.748,0.6],[1.41,-1.75,0.6]];

// ---------- panel g ----------
const g_1 = [[0.885,0.08,0.05],[0.90,0.09,0.1],[0.915,0.11,0.3],[0.93,0.14,0.4],[0.94,0.18,0.45],[0.95,0.22,0.45],[0.96,0.26,0.45],[0.97,0.29,0.4]];
const g_2 = [[0.81,-0.64,0.75],[0.815,-0.612,0.75],[0.824,-0.574,0.75],[0.834,-0.526,0.7],[0.844,-0.478,0.7],[0.854,-0.43,0.65],[0.863,-0.382,0.65],[0.873,-0.335,0.55],[0.883,-0.296,0.45],[0.896,-0.258,0.4],[0.907,-0.22,0.3],[0.919,-0.191,0.25],[0.932,-0.172,0.15],[0.946,-0.153,0.1]];
const g_3 = [[0.907,-1.597,0.1],[0.927,-1.572,0.3],[0.944,-1.539,0.5],[0.958,-1.501,0.6],[0.971,-1.453,0.55],[0.982,-1.405,0.5],[0.993,-1.358,0.35],[1.005,-1.31,0.45],[1.017,-1.262,0.5],[1.028,-1.214,0.45],[1.04,-1.166,0.4],[1.052,-1.119,0.35],[1.063,-1.071,0.3],[1.075,-1.023,0.3],[1.087,-0.975,0.35],[1.099,-0.927,0.45],[1.11,-0.88,0.5],[1.122,-0.826,0.55],[1.134,-0.769,0.55],[1.144,-0.711,0.5],[1.154,-0.654,0.45],[1.163,-0.602,0.4],[1.173,-0.554,0.3],[1.182,-0.526,0.15]];
const g_5 = [[1.102,-1.778,0.35],[1.112,-1.721,0.35],[1.122,-1.663,0.4],[1.135,-1.597,0.4],[1.148,-1.52,0.45],[1.161,-1.444,0.5],[1.174,-1.367,0.5],[1.185,-1.291,0.55],[1.195,-1.22,0.5],[1.205,-1.147,0.55],[1.215,-1.08,0.55],[1.221,-1.013,0.5],[1.229,-0.946,0.5],[1.236,-0.88,0.15],[1.244,-0.813,0.55],[1.252,-0.746,0.5],[1.26,-0.679,0.35],[1.27,-0.621,0.25],[1.283,-0.574,0.15],[1.298,-0.535,0.1],[1.312,-0.507,0.1],[1.327,-0.488,0.1],[1.346,-0.478,0.05]];
const g_6 = [[1.161,-0.478,0.05],[1.18,-0.474,0.05],[1.20,-0.47,0.05],[1.22,-0.47,0.05],[1.24,-0.468,0.05]];
const g_7 = [[1.117,-0.354,0.05],[1.132,-0.335,0.05],[1.146,-0.31,0.05],[1.159,-0.283,0.05],[1.169,-0.249,0.1],[1.177,-0.21,0.15],[1.182,-0.168,0.2],[1.187,-0.124,0.25],[1.192,-0.076,0.3],[1.197,-0.029,0.35],[1.203,0.019,0.35],[1.21,0.067,0.4],[1.217,0.115,0.4],[1.224,0.163,0.4],[1.234,0.21,0.35],[1.247,0.249,0.3],[1.263,0.277,0.2]];
const g_8 = [[1.234,-1.396,0.45],[1.244,-1.338,0.5],[1.254,-1.281,0.55],[1.263,-1.224,0.65],[1.271,-1.166,0.7],[1.28,-1.109,0.6],[1.29,-1.052,0.55],[1.30,-0.994,0.5],[1.309,-0.937,0.5],[1.319,-0.88,0.45],[1.329,-0.826,0.35],[1.341,-0.78,0.25],[1.353,-0.742,0.15],[1.368,-0.711,0.1],[1.383,-0.688,0.05],[1.40,-0.673,0.05],[1.417,-0.66,0.05]];
const g_9 = [[1.259,-0.554,0.55],[1.268,-0.497,0.55],[1.276,-0.44,0.5],[1.284,-0.382,0.5],[1.291,-0.325,0.45],[1.298,-0.268,0.4],[1.305,-0.21,0.45],[1.313,-0.153,0.5],[1.321,-0.099,0.5],[1.329,-0.048,0.5],[1.337,0.0,0.5],[1.346,0.048,0.45],[1.356,0.086,0.4],[1.368,0.119,0.3],[1.381,0.143,0.2],[1.397,0.163,0.1],[1.415,0.172,0.05]];
const g_TR = [[1.35,0.19,0.05],[1.37,0.2,0.05],[1.39,0.21,0.05],[1.41,0.22,0.05],[1.33,0.28,0.05],[1.345,0.29,0.05],[1.41,0.28,0.05]];
const g_10 = [[1.336,-0.43,0.05],[1.35,-0.40,0.05],[1.365,-0.37,0.05],[1.38,-0.35,0.05],[1.395,-0.335,0.05],[1.41,-0.325,0.05]];
const g_11a = [[1.185,-1.549,0.05],[1.205,-1.511,0.05],[1.224,-1.476,0.05],[1.244,-1.449,0.05],[1.263,-1.426,0.1],[1.283,-1.407,0.1],[1.302,-1.392,0.1],[1.322,-1.381,0.1],[1.341,-1.369,0.1],[1.361,-1.361,0.1],[1.38,-1.356,0.1],[1.40,-1.352,0.1],[1.42,-1.35,0.1]];
const g_11b = [[1.20,-1.635,0.05],[1.22,-1.597,0.05],[1.239,-1.564,0.05],[1.259,-1.537,0.05],[1.278,-1.514,0.05],[1.298,-1.495,0.05],[1.317,-1.478,0.05],[1.337,-1.463,0.05],[1.356,-1.449,0.05],[1.376,-1.438,0.05],[1.395,-1.43,0.05],[1.415,-1.424,0.05]];
const g_11c = [[1.259,-1.625,0.05],[1.288,-1.587,0.05],[1.317,-1.553,0.05],[1.346,-1.53,0.05],[1.376,-1.511,0.05],[1.405,-1.495,0.05]];
const g_12 = [[0.82,-1.53,0.05],[0.834,-1.54,0.05],[0.849,-1.53,0.05],[0.868,-1.577,0.05],[0.883,-1.587,0.05],[0.878,-1.453,0.05],[0.893,-1.443,0.05],[0.907,-1.434,0.05],[0.937,-1.348,0.05],[0.95,-1.34,0.05],[0.985,-1.176,0.05],[1.0,-1.166,0.05],[1.015,-1.176,0.05],[1.06,-1.55,0.05],[1.075,-1.54,0.05],[1.14,-1.78,0.05],[1.16,-1.785,0.05],[1.19,-1.78,0.05],[1.052,-0.96,0.05]];

// ---------- panel h ----------
const h_L = [[0.095,-0.255,0.05],[0.104,-0.267,0.4],[0.111,-0.24,0.45],[0.118,-0.215,0.5],[0.124,-0.19,0.6],[0.131,-0.165,0.65],[0.137,-0.14,0.7],[0.144,-0.115,0.7],[0.151,-0.09,0.75],[0.157,-0.065,0.75],[0.164,-0.04,0.75],[0.17,-0.015,0.7],[0.178,0.01,0.7],[0.187,0.035,0.75],[0.196,0.06,0.75],[0.206,0.085,0.7],[0.216,0.11,0.65],[0.226,0.135,0.6],[0.236,0.16,0.55],[0.246,0.185,0.5],[0.256,0.21,0.45],[0.266,0.235,0.4]];
const h_R = [[0.556,0.219,0.45],[0.565,0.195,0.5],[0.575,0.171,0.6],[0.584,0.148,0.7],[0.594,0.124,0.75],[0.603,0.10,0.75],[0.613,0.076,0.75],[0.623,0.052,0.75],[0.633,0.029,0.75],[0.642,0.005,0.75],[0.652,-0.019,0.8],[0.661,-0.043,0.75],[0.671,-0.067,0.75],[0.681,-0.09,0.7],[0.691,-0.114,0.7],[0.70,-0.138,0.65],[0.71,-0.162,0.6],[0.719,-0.186,0.55],[0.729,-0.21,0.5],[0.738,-0.233,0.45],[0.748,-0.257,0.4],[0.761,-0.283,0.3]];
const h_top = [[0.35,0.0,0.05],[0.375,-0.03,0.1],[0.40,-0.05,0.1],[0.425,-0.06,0.1],[0.45,-0.05,0.1],[0.47,-0.03,0.1],[0.49,0.0,0.05]];
const h_iso = [[0.027,0.05,0.05],[0.04,-0.03,0.05],[0.32,0.13,0.05],[0.345,0.13,0.05],[0.35,0.04,0.05],[0.37,0.04,0.05],[0.49,0.13,0.05],[0.49,0.05,0.05],[0.507,0.05,0.05],[0.06,-0.13,0.05],[0.79,-0.15,0.05],[0.81,-0.06,0.05],[0.535,0.21,0.05],[0.276,-0.819,0.05],[0.495,-0.819,0.05]];
const h_arc1 = [[0.09,-0.667,0.2],[0.116,-0.686,0.2],[0.141,-0.705,0.2],[0.167,-0.714,0.2],[0.193,-0.709,0.2],[0.216,-0.686,0.2],[0.234,-0.648,0.15],[0.251,-0.61,0.15],[0.267,-0.571,0.15],[0.285,-0.53,0.15],[0.303,-0.488,0.15],[0.321,-0.45,0.15],[0.341,-0.405,0.15],[0.36,-0.37,0.15],[0.379,-0.335,0.15],[0.398,-0.315,0.15],[0.418,-0.31,0.15],[0.437,-0.315,0.15],[0.456,-0.335,0.15],[0.476,-0.37,0.15],[0.495,-0.405,0.15],[0.514,-0.45,0.15],[0.532,-0.488,0.15],[0.55,-0.53,0.15],[0.568,-0.571,0.15],[0.585,-0.61,0.15],[0.602,-0.648,0.15],[0.62,-0.686,0.2],[0.643,-0.709,0.2],[0.668,-0.714,0.2],[0.694,-0.705,0.2],[0.72,-0.686,0.2],[0.746,-0.667,0.2]];
const h_arc2 = [[0.25,-0.68,0.05],[0.27,-0.64,0.05],[0.29,-0.60,0.05],[0.31,-0.56,0.05],[0.33,-0.52,0.05],[0.35,-0.48,0.05],[0.37,-0.44,0.05],[0.39,-0.41,0.05],[0.41,-0.395,0.05],[0.43,-0.41,0.05],[0.45,-0.44,0.05],[0.47,-0.48,0.05],[0.49,-0.52,0.05],[0.51,-0.56,0.05],[0.53,-0.60,0.05],[0.55,-0.64,0.05],[0.57,-0.68,0.05]];
const h_edgeL = [[0.013,-0.533,0.75],[0.039,-0.495,0.7],[0.064,-0.457,0.4],[0.09,-0.438,0.25],[0.109,-0.438,0.2],[0.006,-0.69,0.05],[0.013,-0.78,0.05],[0.026,-0.876,0.1]];
const h_edgeR = [[0.81,-0.533,0.75],[0.784,-0.495,0.7],[0.758,-0.457,0.4],[0.733,-0.448,0.25],[0.71,-0.45,0.2],[0.804,-0.69,0.05],[0.797,-0.78,0.05],[0.784,-0.876,0.1]];
const h_rowL = [[0.026,-0.952,0.2],[0.051,-1.01,0.2],[0.077,-1.048,0.2],[0.103,-1.067,0.2],[0.129,-1.076,0.2],[0.154,-1.076,0.2],[0.18,-1.086,0.2],[0.193,-1.124,0.15],[0.206,-1.181,0.1],[0.219,-1.219,0.05]];
const h_rowR = [[0.794,-0.952,0.2],[0.769,-1.01,0.2],[0.743,-1.048,0.2],[0.717,-1.067,0.2],[0.691,-1.076,0.2],[0.666,-1.076,0.2],[0.64,-1.086,0.2],[0.627,-1.124,0.15],[0.614,-1.181,0.1],[0.601,-1.219,0.05]];
const h_lowL = [[0.013,-1.105,0.1],[0.032,-1.143,0.1],[0.051,-1.181,0.1],[0.071,-1.219,0.1],[0.09,-1.257,0.05]];
const h_lowR = [[0.807,-1.105,0.1],[0.788,-1.143,0.1],[0.769,-1.181,0.1],[0.749,-1.219,0.1],[0.73,-1.257,0.05]];
const h_bot = [[0.103,-1.448,0.05],[0.116,-1.505,0.05],[0.244,-1.448,0.05],[0.27,-1.467,0.05],[0.296,-1.448,0.1],[0.315,-1.438,0.1],[0.321,-1.505,0.05],[0.257,-1.562,0.05],[0.283,-1.60,0.05],[0.32,-1.69,0.05],[0.576,-1.448,0.05],[0.55,-1.467,0.05],[0.524,-1.448,0.1],[0.505,-1.438,0.1],[0.499,-1.505,0.05],[0.563,-1.562,0.05],[0.537,-1.60,0.05],[0.5,-1.69,0.05],[0.717,-1.448,0.05],[0.704,-1.505,0.05]];

// ---------- layout (page pixels of each plot frame) ----------
const PANELS = [
 {id:'a', box:[71,13,281,378], k:K_A, kt:TICK_K1, cut:'Cut 1', cutPos:[80,24],
  bands:[a_rise,a_flat,a_bl,a_low2,a_low1,a_S,a_L1,a_L2,a_arc,a_L4,a_B4,a_R2,a_B3w,a_B3,a_B1w,a_R,a_TR,a_B1g],
  fits:[a_fitB1,a_fitB3], tags:[['B1',1.374,-0.075],['B4',1.182,-0.431],['B5',1.28,-0.431],['B3',1.114,-0.951]]},
 {id:'b', box:[328,13,538,380], k:K_B, kt:TICK_K1, cut:'Cut 2', cutPos:[345,23],
  bands:[b_iso,b_lw1,b_lw2,b_lw3,b_wrow,b_w1,b_w0,b_B6L,b_diag2,b_mid,b_RR,b_w2,b_B6R,b_horiz,b_R,b_top,b_B2w,b_TL,b_B2g],
  fits:[b_fitB2,b_fitB6], tags:[['B2',1.108,-0.138],['B6',1.058,-0.482]]},
 {id:'c', box:[582,13,792,380], k:K_C, kt:TICK_K1, cut:'Cut 3', cutPos:[588,23],
  bands:[c_TL,c_bw,c_bw2,c_Rw,c_steep,c_Lw,c_R,c_RM,c_Gw,c_G,c_L,c_U,c_TR,c_b1,c_b3,c_b2],
  fits:[c_fitU,c_fitL], tags:[]},
 {id:'d', box:[842,13,1052,378], k:K_D, kt:TICK_K5, cut:'Cut 5', cutPos:[851,21],
  bands:[d_top,d_wL,d_wR,d_B2Lw,d_B2Rw,d_edgeL,d_edgeR,d_rowL,d_rowR,d_midL,d_midR,d_wEdge,d_B2La,d_B2Ra,d_B6,d_B6p],
  fits:[d_fitB2L,d_fitB2R,d_fitB6,d_fitB6p], tags:[['B2',0.232,-0.184],['B2\u2032',0.626,-0.184],['B6',0.275,-0.873],['B6\u2032',0.589,-0.873]]},
 {id:'e', box:[71,424,280,791], k:K_E, kt:TICK_K1, cut:'Cut 1', cutPos:[78,439],
  bands:[e_iso,e_r,e_S,e_S2,e_L1,e_B], fits:[], tags:[]},
 {id:'f', box:[327,427,537,793], k:K_F, kt:TICK_K1, cut:'Cut 2', cutPos:[335,441],
  bands:[f_iso,f_8,f_9b,f_9,f_M1,f_4,f_7,f_5,f_6,f_TL,f_M2,f_10], fits:[], tags:[]},
 {id:'g', box:[587,428,797,795], k:K_G, kt:TICK_K1, cut:'Cut 3', cutPos:[595,441],
  bands:[g_12,g_11c,g_11b,g_11a,g_10,g_TR,g_6,g_7,g_1,g_3,g_5,g_8,g_9,g_2], fits:[], tags:[]},
 {id:'h', box:[843,428,1053,795], k:K_H, kt:TICK_K5, cut:'Cut 5', cutPos:[852,441],
  bands:[h_bot,h_iso,h_top,h_lowL,h_lowR,h_rowL,h_rowR,h_arc2,h_arc1,h_edgeL,h_edgeR,h_L,h_R], fits:[], tags:[]}
];
const LETTERS = [['a',37,0],['b',293,0],['c',554,0],['d',804,0],['e',33,402],['f',298,402],['g',552,402],['h',807,402]];

// ---------- styling helpers ----------
const STOPS = [[0,[247,251,245]],[0.3,[228,242,222]],[0.5,[205,231,196]],[0.7,[158,207,148]],[0.85,[112,181,110]],[1,[78,158,80]]];
function shade(w){
  for(let i=1;i<STOPS.length;i++){
    if(w<=STOPS[i][0]){
      const [w0,c0]=STOPS[i-1],[w1,c1]=STOPS[i];const t=(w-w0)/(w1-w0);
      return 'rgb('+c0.map((c,j)=>Math.round(c+(c1[j]-c)*t)).join(',')+')';
    }
  }
  return 'rgb(78,158,80)';
}
function rad(w){return 3.4+9*w;}
function fmt(v){const s=Math.abs(v).toFixed(1);return (v<-1e-9?'\u2212':'')+s;}
const FONT='"Liberation Serif","Times New Roman",serif';

const framePlugin = {
  id:'frame',
  afterDraw(chart){
    const {ctx, chartArea:a, scales:{x,y}} = chart;
    ctx.save();
    ctx.strokeStyle='#111'; ctx.lineWidth=1.5; ctx.setLineDash([]);
    ctx.beginPath();
    x.ticks.forEach(t=>{const p=x.getPixelForValue(t.value);ctx.moveTo(p,a.bottom);ctx.lineTo(p,a.bottom-5);ctx.moveTo(p,a.top);ctx.lineTo(p,a.top+5);});
    y.ticks.forEach(t=>{const p=y.getPixelForValue(t.value);ctx.moveTo(a.left,p);ctx.lineTo(a.left+5,p);ctx.moveTo(a.right,p);ctx.lineTo(a.right-5,p);});
    ctx.stroke();
    ctx.lineWidth=2; ctx.strokeStyle='#111';
    ctx.strokeRect(a.left,a.top,a.right-a.left,a.bottom-a.top);
    ctx.fillStyle='#000'; ctx.font='bold 17px '+FONT; ctx.textBaseline='alphabetic';
    ctx.textAlign='center';
    x.ticks.forEach(t=>ctx.fillText(fmt(t.value),x.getPixelForValue(t.value),a.bottom+16));
    ctx.textAlign='right';
    y.ticks.forEach(t=>ctx.fillText(fmt(t.value),a.left-6,y.getPixelForValue(t.value)+6));
    const tags = chart.$tags || [];
    ctx.textAlign='center'; ctx.textBaseline='middle';
    tags.forEach(([s,k,E])=>ctx.fillText(s,x.getPixelForValue(k),y.getPixelForValue(E)));
    ctx.restore();
  }
};

PANELS.forEach(P=>{
  const [L,T,R,B]=P.box;
  const padL=60,padT=10,padR=15,padB=40;
  const W=R-L+padL+padR, H=B-T+padT+padB;
  const cv=document.createElement('canvas');
  cv.width=W;cv.height=H;cv.style.left=(L-padL)+'px';cv.style.top=(T-padT)+'px';
  cv.style.width=W+'px';cv.style.height=H+'px';
  document.body.appendChild(cv);
  const datasets=[];
  datasets.push({type:'line',data:[{x:P.k[0],y:0},{x:P.k[1],y:0}],borderColor:'#e8202a',borderWidth:1.8,borderDash:[4,3],pointRadius:0,order:0});
  P.fits.forEach(f=>datasets.push({type:'line',data:f.map(([k,E])=>({x:k,y:E})),borderColor:'#000',borderWidth:1.6,borderDash:[5,3],pointRadius:0,cubicInterpolationMode:'monotone',order:1}));
  P.bands.forEach((b,i)=>datasets.push({type:'scatter',data:b.map(([k,E,w])=>({x:k,y:E,w:w})),
    pointRadius:c=>c.raw?rad(c.raw.w):3, pointBackgroundColor:c=>c.raw?shade(c.raw.w):'#fff',
    pointBorderColor:'#2a2a2a', pointBorderWidth:0.8, pointHoverRadius:c=>c.raw?rad(c.raw.w):3, showLine:false, order:200-i}));
  const ch=new Chart(cv.getContext('2d'),{
    type:'scatter',
    data:{datasets},
    options:{
      responsive:false, animation:false, devicePixelRatio:1, events:[],
      layout:{padding:{left:0,top:padT,right:padR,bottom:0}},
      plugins:{legend:{display:false},tooltip:{enabled:false}},
      scales:{
        x:{type:'linear',min:P.k[0],max:P.k[1],
           afterBuildTicks:s=>{s.ticks=P.kt.map(v=>({value:v}));},
           afterFit:s=>{s.height=padB;},
           grid:{display:false},border:{display:false},ticks:{display:false}},
        y:{type:'linear',min:E_RANGE[0],max:E_RANGE[1],
           afterBuildTicks:s=>{s.ticks=TICK_E.map(v=>({value:v}));},
           afterFit:s=>{s.width=padL;},
           grid:{display:false},border:{display:false},ticks:{display:false}}
      }
    },
    plugins:[framePlugin]
  });
  ch.$tags=P.tags; ch.draw();
  const c=document.createElement('div');c.className='cut';c.textContent=P.cut;
  c.style.left=P.cutPos[0]+'px';c.style.top=P.cutPos[1]+'px';document.body.appendChild(c);
});
LETTERS.forEach(([s,x,y])=>{const d=document.createElement('div');d.className='pl';d.textContent=s;d.style.left=x+'px';d.style.top=y+'px';document.body.appendChild(d);});
// axis titles
[[18,207],[18,628]].forEach(([x,y])=>{const d=document.createElement('div');d.className='yt';d.innerHTML='E-E<sub>F</sub> (eV)';d.style.left=x+'px';d.style.top=y+'px';document.body.appendChild(d);});
[[177,811],[432,811],[692,811],[948,811]].forEach(([x,y])=>{const d=document.createElement('div');d.className='xt';d.innerHTML='<i style="font-weight:normal">k<sub>x</sub></i>&nbsp; (1/\u00c5)';d.style.left=x+'px';d.style.top=y+'px';document.body.appendChild(d);});
</script>
</body></html>
